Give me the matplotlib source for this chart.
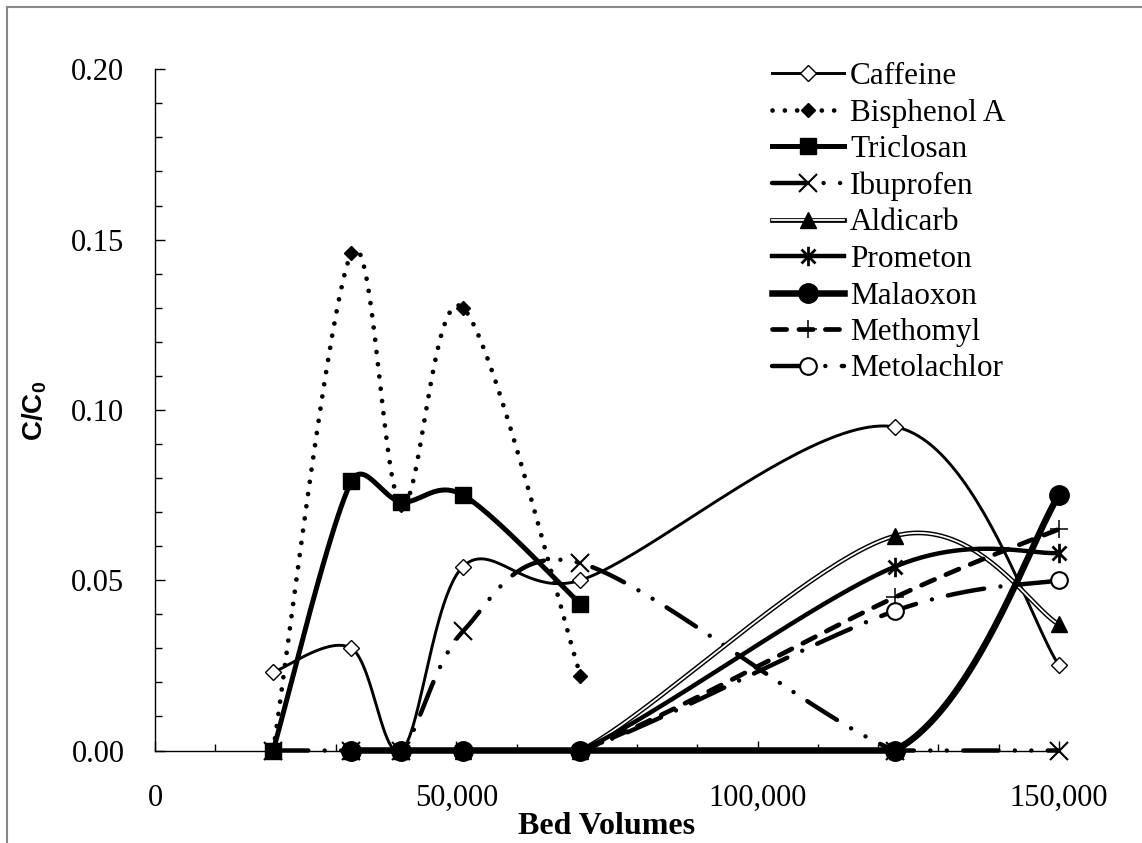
import numpy as np
import matplotlib
matplotlib.use("Agg")
import matplotlib.pyplot as plt
from matplotlib.lines import Line2D
from matplotlib.path import Path
from matplotlib.ticker import MultipleLocator, FuncFormatter

plt.rcParams['font.family'] = ['Liberation Serif', 'DejaVu Serif']
plt.rcParams['mathtext.fontset'] = 'custom'
plt.rcParams['mathtext.rm'] = 'Liberation Sans'
plt.rcParams['mathtext.bf'] = 'Liberation Sans:bold'

# --- data ---
bed_volumes = [19600, 32600, 40900, 51100, 70600, 122800, 150000]

caffeine = [0.023, 0.030, 0.000, 0.054, 0.050, 0.095, 0.025]
bisphenol_a = [0.000, 0.146, 0.072, 0.130, 0.022]
triclosan = [0.000, 0.079, 0.073, 0.075, 0.043]
ibuprofen = [0.000, 0.000, 0.000, 0.035, 0.055, 0.000, 0.000]
aldicarb = [0.000, 0.000, 0.000, 0.000, 0.063, 0.037]
prometon = [0.000, 0.000, 0.000, 0.000, 0.054, 0.058]
malaoxon = [0.000, 0.000, 0.000, 0.000, 0.000, 0.075]
methomyl = [0.000, 0.000, 0.000, 0.000, 0.045, 0.065]
metolachlor = [0.000, 0.000, 0.000, 0.000, 0.041, 0.050]

W, H = 1142, 843
fig = plt.figure(figsize=(W / 100, H / 100), dpi=100)
ax = fig.add_axes([155 / W, 1 - 750.5 / H, (1059 - 155) / W, (750.5 - 69.3) / H])
ax.set_xlim(0, 150000)
ax.set_ylim(0, 0.20)


def smooth(xs, ys, n=50):
    # excel style bezier smoothing, done in pixel space
    pts = ax.transData.transform(np.column_stack([xs, ys]))
    out = []
    for i in range(len(pts) - 1):
        p1, p2 = pts[i], pts[i + 1]
        p0 = pts[i - 1] if i > 0 else p1
        p3 = pts[i + 2] if i + 2 < len(pts) else p2
        half = np.hypot(*(p2 - p1)) / 2
        d1 = (p2 - p0) / 6
        d2 = (p3 - p1) / 6
        if np.hypot(*d1) > half:
            d1 = d1 / np.hypot(*d1) * half
        if np.hypot(*d2) > half:
            d2 = d2 / np.hypot(*d2) * half
        if ys[i] == ys[i + 1]:
            # flat stretch stays on the axis
            d1 = np.array([d1[0], 0.0])
            d2 = np.array([d2[0], 0.0])
        c1, c2 = p1 + d1, p2 - d2
        t = np.linspace(0, 1, n)[:, None]
        seg = (1 - t) ** 3 * p1 + 3 * (1 - t) ** 2 * t * c1 + 3 * (1 - t) * t ** 2 * c2 + t ** 3 * p2
        out.append(seg if i == 0 else seg[1:])
    out = np.vstack(out)
    return ax.transData.inverted().transform(out).T


star = Path([(0, -1), (0, 1), (-0.72, -0.72), (0.72, 0.72), (-0.72, 0.72), (0.72, -0.72)],
            [Path.MOVETO, Path.LINETO] * 3)

series = [
    ("Caffeine", bed_volumes, caffeine,
     dict(lw=2.1), dict(marker='D', ms=8.5, mfc='white', mec='black', mew=1.0)),
    ("Bisphenol A", bed_volumes[:5], bisphenol_a,
     dict(lw=3.4, ls=(0, (0.01, 2.6)), dash_capstyle='round'),
     dict(marker='D', ms=7.5, mfc='black', mec='black')),
    ("Triclosan", bed_volumes[:5], triclosan,
     dict(lw=3.6), dict(marker='s', ms=12, mfc='black', mec='black')),
    ("Ibuprofen", bed_volumes, ibuprofen,
     dict(lw=3.2, ls=(0, (7.9, 3.7, 0.01, 3.7, 0.01, 3.7)), dash_capstyle='round'),
     dict(marker='x', ms=13, mec='black', mew=1.5)),
    ("Aldicarb", bed_volumes[1:], aldicarb,
     dict(lw=3.4), dict(marker='^', ms=12, mfc='black', mec='black')),
    ("Prometon", bed_volumes[1:], prometon,
     dict(lw=3.2), dict(marker=star, ms=14, mfc='none', mec='black', mew=2.0)),
    ("Malaoxon", bed_volumes[1:], malaoxon,
     dict(lw=4.7), dict(marker='o', ms=14, mfc='black', mec='black')),
    ("Methomyl", bed_volumes[1:], methomyl,
     dict(lw=3.4, ls=(0, (3.0, 2.6)), dash_capstyle='round'),
     dict(marker='+', ms=13, mec='black', mew=1.1)),
    ("Metolachlor", bed_volumes[1:], metolachlor,
     dict(lw=3.2, ls=(0, (8.3, 3.7, 0.01, 3.7)), dash_capstyle='round'),
     dict(marker='o', ms=12, mfc='white', mec='black', mew=1.5)),
]

handles = []
for k, (name, xs, ys, lkw, mkw) in enumerate(series):
    z = 3 + k
    if name == "Malaoxon":
        z = 20  # its filled circles sit on top of the zero points
    sx, sy = smooth(xs, ys)
    ax.plot(sx, sy, color='black', zorder=z, clip_on=False, **lkw)
    parts = [Line2D([], [], color='black', **lkw)]
    if name == "Aldicarb":
        ax.plot(sx, sy, color='white', lw=1.3, zorder=z, clip_on=False)
        parts.append(Line2D([], [], color='white', lw=1.3))
    ax.plot(xs, ys, ls='none', zorder=z, clip_on=False, **mkw)
    parts.append(Line2D([], [], ls='none', **mkw))
    handles.append(tuple(parts))

names = [s[0] for s in series]
fig.legend(handles, names, loc='upper left', bbox_to_anchor=(772 / W, 1 - 62 / H),
           frameon=False, fontsize=22.5, handlelength=2.3, handletextpad=0.2,
           labelspacing=0.24, borderpad=0, borderaxespad=0)

# axes styling
for s in ['top', 'right']:
    ax.spines[s].set_visible(False)
for s in ['left', 'bottom']:
    ax.spines[s].set_linewidth(1.0)
ax.xaxis.set_major_locator(MultipleLocator(50000))
ax.xaxis.set_minor_locator(MultipleLocator(10000))
ax.yaxis.set_major_locator(MultipleLocator(0.05))
ax.yaxis.set_minor_locator(MultipleLocator(0.01))
ax.xaxis.set_major_formatter(FuncFormatter(lambda v, p: f"{v:,.0f}"))
ax.yaxis.set_major_formatter(FuncFormatter(lambda v, p: f"{v:.2f}"))
ax.tick_params(which='both', direction='in', width=1.0, labelsize=22)
ax.tick_params(which='major', length=7)
ax.tick_params(which='minor', length=5)
ax.tick_params(axis='x', which='major', pad=24)
ax.tick_params(axis='y', which='major', pad=22)

fig.text(607 / W, 1 - 826 / H, "Bed Volumes", ha='center', va='center',
         fontsize=23, fontweight='bold')
fig.text(35 / W, 1 - 411 / H, r"$\mathbf{C/C_0}$", ha='center', va='center',
         rotation=90, fontsize=20)

# grey frame of the original screenshot
fig.add_artist(Line2D([7 / W, 7 / W], [0, 1 - 7 / H], color='#888888', lw=1.5))
fig.add_artist(Line2D([7 / W, 1], [1 - 7 / H, 1 - 7 / H], color='#888888', lw=1.5))

fig.savefig("out.png", dpi=100)
